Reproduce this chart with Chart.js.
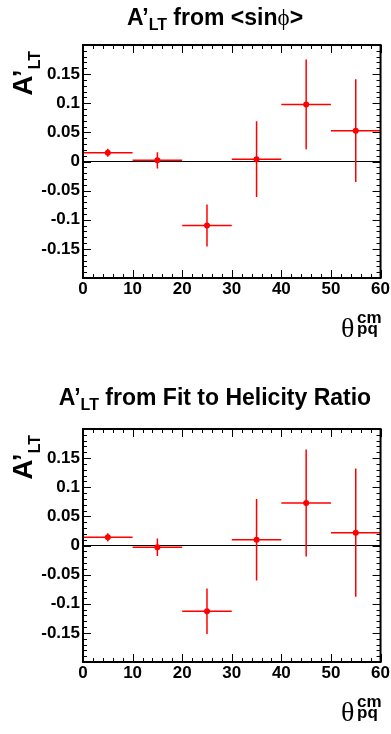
<!doctype html>
<html lang="en">
<head>
<meta charset="utf-8">
<title>A'LT vs theta_pq^cm</title>
<script src="https://cdn.jsdelivr.net/npm/chart.js@4.4.1/dist/chart.umd.min.js"></script>
<style>
  *{box-sizing:border-box}
  body{margin:0;background:#fff;font-family:"Liberation Sans",Arial,Helvetica,sans-serif;color:#000}
  .wrap{position:relative;width:391px;height:734px;overflow:hidden}
  canvas{position:absolute;left:0}
  .t{position:absolute;font-weight:bold;line-height:1;white-space:nowrap}
  .title{left:40px;width:350px;text-align:center;font-size:23px}
  .title .sub{font-size:16px;position:relative;top:5px}
  .sym{font-family:"Liberation Serif","DejaVu Serif",serif;font-weight:normal}
  .ytitle{left:9px;width:120px;text-align:right;font-size:28px;transform-origin:0 0;transform:rotate(-90deg)}
  .ytitle .sub{font-size:16px;position:relative;top:8px}
  .theta{font-family:"Liberation Serif","DejaVu Serif",serif;font-weight:normal;font-size:28px}
  .idx{font-size:17px}
</style>
</head>
<body>
<div class="wrap">
  <canvas id="c1" width="391" height="367" style="top:0"></canvas>
  <canvas id="c2" width="391" height="367" style="top:367px"></canvas>

  <div class="t title" style="top:6px">A’<span class="sub">LT</span> from &lt;sin<span class="sym">ϕ</span>&gt;</div>
  <div class="t ytitle" style="top:171px">A’<span class="sub">LT</span></div>
  <div class="t theta" style="left:341px;top:314px">θ</div>
  <div class="t idx" style="left:357px;top:309px">cm</div>
  <div class="t idx" style="left:357px;top:320px">pq</div>

  <div class="t title" style="top:386px">A’<span class="sub">LT</span> from Fit to Helicity Ratio</div>
  <div class="t ytitle" style="top:555px">A’<span class="sub">LT</span></div>
  <div class="t theta" style="left:341px;top:698px">θ</div>
  <div class="t idx" style="left:357px;top:693px">cm</div>
  <div class="t idx" style="left:357px;top:704px">pq</div>
</div>

<script>
  // bins in theta_pq^cm (degrees)
  const binLow = [0, 10, 20, 30, 40, 50];
  const binHigh = [10, 20, 30, 40, 50, 60];
  const binCenter = [5, 15, 25, 35, 45, 55];

  // A'LT from <sin phi>
  const sinPhiValues = [0.015, 0.002, -0.110, 0.004, 0.098, 0.053];
  const sinPhiErrors = [0.007, 0.014, 0.036, 0.065, 0.077, 0.088];

  // A'LT from fit to helicity ratio
  const fitValues = [0.014, -0.003, -0.113, 0.010, 0.073, 0.022];
  const fitErrors = [0.007, 0.015, 0.039, 0.070, 0.092, 0.110];

  const xTickValues = [0, 10, 20, 30, 40, 50, 60];
  const xTickLabels = ["0", "10", "20", "30", "40", "50", "60"];
  const yTickValues = [-0.15, -0.1, -0.05, 0, 0.05, 0.1, 0.15];
  const yTickLabels = ["-0.15", "-0.1", "-0.05", "0", "0.05", "0.1", "0.15"];

  const FONT = "'Liberation Sans', Arial, Helvetica, sans-serif";
  const RED = "#ff0000";

  // ROOT-style frame with inward ticks on all four sides
  const frame = {
    id: "frame",
    afterDraw(chart) {
      const { ctx, chartArea: a, scales: { x, y } } = chart;
      ctx.save();
      ctx.strokeStyle = "#000";
      ctx.lineWidth = 1;
      ctx.beginPath();
      for (let v = 0; v <= 60; v += 2) {
        const px = Math.round(x.getPixelForValue(v)) + 0.5;
        const len = v % 10 === 0 ? 8 : 4;
        ctx.moveTo(px, a.bottom); ctx.lineTo(px, a.bottom - len);
        ctx.moveTo(px, a.top); ctx.lineTo(px, a.top + len);
      }
      for (let i = -20; i <= 20; i++) {
        const py = Math.round(y.getPixelForValue(i / 100)) + 0.5;
        const len = i % 5 === 0 ? 8 : 4;
        ctx.moveTo(a.left, py); ctx.lineTo(a.left + len, py);
        ctx.moveTo(a.right, py); ctx.lineTo(a.right - len, py);
      }
      ctx.stroke();
      ctx.lineWidth = 2;
      ctx.strokeRect(a.left, a.top, a.right - a.left, a.bottom - a.top);
      ctx.restore();
    }
  };

  function datasets(vals, errs) {
    const ds = [{
      data: [{ x: xTickValues[0], y: 0 }, { x: xTickValues[xTickValues.length - 1], y: 0 }],
      showLine: true, borderColor: "#000", borderWidth: 1, pointRadius: 0, order: 3
    }];
    vals.forEach((v, i) => {
      ds.push({ data: [{ x: binLow[i], y: v }, { x: binHigh[i], y: v }],
        showLine: true, borderColor: RED, borderWidth: 1.5, pointRadius: 0, order: 2 });
      ds.push({ data: [{ x: binCenter[i], y: v - errs[i] }, { x: binCenter[i], y: v + errs[i] }],
        showLine: true, borderColor: RED, borderWidth: 1.5, pointRadius: 0, order: 2 });
    });
    ds.push({ data: vals.map((v, i) => ({ x: binCenter[i], y: v })),
      pointRadius: 3, pointBackgroundColor: RED, pointBorderWidth: 0, order: 1 });
    return ds;
  }

  function makeChart(id, vals, errs, top) {
    const tickFont = { family: FONT, size: 17, weight: "bold" };
    return new Chart(document.getElementById(id), {
      type: "scatter",
      data: { datasets: datasets(vals, errs) },
      options: {
        responsive: false, animation: false, devicePixelRatio: 1,
        layout: { autoPadding: false, padding: { left: 0, right: 8, top: top, bottom: 367 - top - 233 - 30 } },
        plugins: { legend: { display: false }, tooltip: { enabled: false } },
        scales: {
          x: {
            type: "linear", min: 0, max: 60,
            afterBuildTicks: (s) => { s.ticks = xTickValues.map(v => ({ value: v })); },
            afterFit: (s) => { s.height = 30; },
            ticks: { font: tickFont, color: "#000", padding: 1, maxRotation: 0, autoSkip: false,
              callback: (v, i) => xTickLabels[i] },
            grid: { display: false, drawTicks: false }, border: { display: false }
          },
          y: {
            min: -0.2, max: 0.2,
            afterBuildTicks: (s) => { s.ticks = yTickValues.map(v => ({ value: v })); },
            afterFit: (s) => { s.width = 83; },
            ticks: { font: tickFont, color: "#000", padding: 3, autoSkip: false,
              callback: (v, i) => yTickLabels[i] },
            grid: { display: false, drawTicks: false }, border: { display: false }
          }
        }
      },
      plugins: [frame]
    });
  }

  makeChart("c1", sinPhiValues, sinPhiErrors, 45);
  makeChart("c2", fitValues, fitErrors, 62);
</script>
</body>
</html>
